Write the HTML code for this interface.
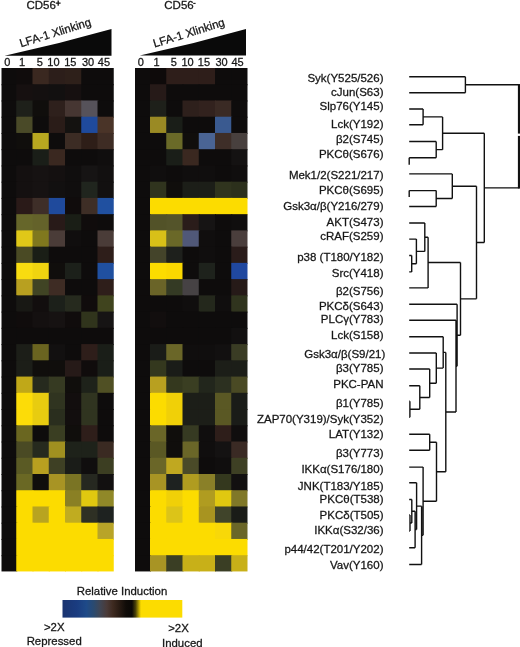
<!DOCTYPE html>
<html><head><meta charset="utf-8"><style>
html,body{margin:0;padding:0;background:#fff;}
body{width:520px;height:647px;overflow:hidden;position:relative;}
svg{position:absolute;left:0;top:0;will-change:transform;}
text{font-family:"Liberation Sans",sans-serif;fill:#161616;stroke:#161616;stroke-width:0.28px;}
.lab text{font-size:11.5px;}
</style></head><body>
<svg width="520" height="647" viewBox="0 0 520 647">
<defs>
<linearGradient id="cb" x1="0" x2="1" y1="0" y2="0">
<stop offset="0" stop-color="#1a3470"/>
<stop offset="0.12" stop-color="#1a3c80"/>
<stop offset="0.2" stop-color="#1e4a88"/>
<stop offset="0.26" stop-color="#2a4a70"/>
<stop offset="0.31" stop-color="#3e4656"/>
<stop offset="0.37" stop-color="#4a3a38"/>
<stop offset="0.42" stop-color="#3e2a20"/>
<stop offset="0.47" stop-color="#2a1c14"/>
<stop offset="0.53" stop-color="#100c08"/>
<stop offset="0.58" stop-color="#0a0806"/>
<stop offset="0.61" stop-color="#4a4208"/>
<stop offset="0.655" stop-color="#fcdc00"/>
<stop offset="1" stop-color="#fcdc00"/>
</linearGradient>
</defs>
<g>
<rect x="1.50" y="68.00" width="15.75" height="17.24" fill="#0e0c0c"/>
<rect x="16.25" y="68.00" width="17.25" height="17.24" fill="#100c0c"/>
<rect x="32.50" y="68.00" width="17.25" height="17.24" fill="#3a2820"/>
<rect x="48.75" y="68.00" width="17.25" height="17.24" fill="#2c1e1a"/>
<rect x="65.00" y="68.00" width="17.25" height="17.24" fill="#2e201a"/>
<rect x="81.25" y="68.00" width="17.25" height="17.24" fill="#0e0c0c"/>
<rect x="97.50" y="68.00" width="16.25" height="17.24" fill="#0e0c0c"/>
<rect x="1.50" y="84.24" width="15.75" height="17.24" fill="#0e0c0c"/>
<rect x="16.25" y="84.24" width="17.25" height="17.24" fill="#161010"/>
<rect x="32.50" y="84.24" width="17.25" height="17.24" fill="#141010"/>
<rect x="48.75" y="84.24" width="17.25" height="17.24" fill="#121010"/>
<rect x="65.00" y="84.24" width="17.25" height="17.24" fill="#161010"/>
<rect x="81.25" y="84.24" width="17.25" height="17.24" fill="#0e0c0c"/>
<rect x="97.50" y="84.24" width="16.25" height="17.24" fill="#0e0c0c"/>
<rect x="1.50" y="100.48" width="15.75" height="17.24" fill="#0e0c0c"/>
<rect x="16.25" y="100.48" width="17.25" height="17.24" fill="#1e201a"/>
<rect x="32.50" y="100.48" width="17.25" height="17.24" fill="#100e0c"/>
<rect x="48.75" y="100.48" width="17.25" height="17.24" fill="#2e201c"/>
<rect x="65.00" y="100.48" width="17.25" height="17.24" fill="#463632"/>
<rect x="81.25" y="100.48" width="17.25" height="17.24" fill="#56525a"/>
<rect x="97.50" y="100.48" width="16.25" height="17.24" fill="#0e0c0c"/>
<rect x="1.50" y="116.72" width="15.75" height="17.24" fill="#0e0c0c"/>
<rect x="16.25" y="116.72" width="17.25" height="17.24" fill="#4a4a28"/>
<rect x="32.50" y="116.72" width="17.25" height="17.24" fill="#0e0c0c"/>
<rect x="48.75" y="116.72" width="17.25" height="17.24" fill="#2a1c18"/>
<rect x="65.00" y="116.72" width="17.25" height="17.24" fill="#141210"/>
<rect x="81.25" y="116.72" width="17.25" height="17.24" fill="#1f4a9c"/>
<rect x="97.50" y="116.72" width="16.25" height="17.24" fill="#4a3428"/>
<rect x="1.50" y="132.96" width="15.75" height="17.24" fill="#0e0c0c"/>
<rect x="16.25" y="132.96" width="17.25" height="17.24" fill="#100e0c"/>
<rect x="32.50" y="132.96" width="17.25" height="17.24" fill="#b8a820"/>
<rect x="48.75" y="132.96" width="17.25" height="17.24" fill="#0e0c0c"/>
<rect x="65.00" y="132.96" width="17.25" height="17.24" fill="#3c2c24"/>
<rect x="81.25" y="132.96" width="17.25" height="17.24" fill="#2e1e18"/>
<rect x="97.50" y="132.96" width="16.25" height="17.24" fill="#3e2c24"/>
<rect x="1.50" y="149.20" width="15.75" height="17.24" fill="#0e0c0c"/>
<rect x="16.25" y="149.20" width="17.25" height="17.24" fill="#0e0c0c"/>
<rect x="32.50" y="149.20" width="17.25" height="17.24" fill="#1a1e18"/>
<rect x="48.75" y="149.20" width="17.25" height="17.24" fill="#3a2820"/>
<rect x="65.00" y="149.20" width="17.25" height="17.24" fill="#0e0c0c"/>
<rect x="81.25" y="149.20" width="17.25" height="17.24" fill="#0e0c0c"/>
<rect x="97.50" y="149.20" width="16.25" height="17.24" fill="#100e0e"/>
<rect x="1.50" y="165.44" width="15.75" height="17.24" fill="#0e0c0c"/>
<rect x="16.25" y="165.44" width="17.25" height="17.24" fill="#141010"/>
<rect x="32.50" y="165.44" width="17.25" height="17.24" fill="#161212"/>
<rect x="48.75" y="165.44" width="17.25" height="17.24" fill="#141010"/>
<rect x="65.00" y="165.44" width="17.25" height="17.24" fill="#100e0e"/>
<rect x="81.25" y="165.44" width="17.25" height="17.24" fill="#161414"/>
<rect x="97.50" y="165.44" width="16.25" height="17.24" fill="#121010"/>
<rect x="1.50" y="181.68" width="15.75" height="17.24" fill="#0e0c0c"/>
<rect x="16.25" y="181.68" width="17.25" height="17.24" fill="#141010"/>
<rect x="32.50" y="181.68" width="17.25" height="17.24" fill="#161212"/>
<rect x="48.75" y="181.68" width="17.25" height="17.24" fill="#121010"/>
<rect x="65.00" y="181.68" width="17.25" height="17.24" fill="#100e0e"/>
<rect x="81.25" y="181.68" width="17.25" height="17.24" fill="#20251e"/>
<rect x="97.50" y="181.68" width="16.25" height="17.24" fill="#121010"/>
<rect x="1.50" y="197.92" width="15.75" height="17.24" fill="#0e0c0c"/>
<rect x="16.25" y="197.92" width="17.25" height="17.24" fill="#2a1a18"/>
<rect x="32.50" y="197.92" width="17.25" height="17.24" fill="#3e2e28"/>
<rect x="48.75" y="197.92" width="17.25" height="17.24" fill="#1f4a9c"/>
<rect x="65.00" y="197.92" width="17.25" height="17.24" fill="#100c0c"/>
<rect x="81.25" y="197.92" width="17.25" height="17.24" fill="#3e2e26"/>
<rect x="97.50" y="197.92" width="16.25" height="17.24" fill="#2050a0"/>
<rect x="1.50" y="214.16" width="15.75" height="17.24" fill="#0e0c0c"/>
<rect x="16.25" y="214.16" width="17.25" height="17.24" fill="#66662a"/>
<rect x="32.50" y="214.16" width="17.25" height="17.24" fill="#64622a"/>
<rect x="48.75" y="214.16" width="17.25" height="17.24" fill="#281a18"/>
<rect x="65.00" y="214.16" width="17.25" height="17.24" fill="#1a1e16"/>
<rect x="81.25" y="214.16" width="17.25" height="17.24" fill="#100c0c"/>
<rect x="97.50" y="214.16" width="16.25" height="17.24" fill="#0e0c0c"/>
<rect x="1.50" y="230.40" width="15.75" height="17.24" fill="#0e0c0c"/>
<rect x="16.25" y="230.40" width="17.25" height="17.24" fill="#e0c818"/>
<rect x="32.50" y="230.40" width="17.25" height="17.24" fill="#80781e"/>
<rect x="48.75" y="230.40" width="17.25" height="17.24" fill="#4a3c38"/>
<rect x="65.00" y="230.40" width="17.25" height="17.24" fill="#100e0e"/>
<rect x="81.25" y="230.40" width="17.25" height="17.24" fill="#0e0c0c"/>
<rect x="97.50" y="230.40" width="16.25" height="17.24" fill="#4a3c38"/>
<rect x="1.50" y="246.64" width="15.75" height="17.24" fill="#0e0c0c"/>
<rect x="16.25" y="246.64" width="17.25" height="17.24" fill="#4a4a24"/>
<rect x="32.50" y="246.64" width="17.25" height="17.24" fill="#1a1e16"/>
<rect x="48.75" y="246.64" width="17.25" height="17.24" fill="#0e0c0c"/>
<rect x="65.00" y="246.64" width="17.25" height="17.24" fill="#0e0c0c"/>
<rect x="81.25" y="246.64" width="17.25" height="17.24" fill="#0e0c0c"/>
<rect x="97.50" y="246.64" width="16.25" height="17.24" fill="#2e1e1a"/>
<rect x="1.50" y="262.88" width="15.75" height="17.24" fill="#0e0c0c"/>
<rect x="16.25" y="262.88" width="17.25" height="17.24" fill="#f8dc10"/>
<rect x="32.50" y="262.88" width="17.25" height="17.24" fill="#f0d410"/>
<rect x="48.75" y="262.88" width="17.25" height="17.24" fill="#100e0c"/>
<rect x="65.00" y="262.88" width="17.25" height="17.24" fill="#1c201a"/>
<rect x="81.25" y="262.88" width="17.25" height="17.24" fill="#0e0c0c"/>
<rect x="97.50" y="262.88" width="16.25" height="17.24" fill="#2050a0"/>
<rect x="1.50" y="279.12" width="15.75" height="17.24" fill="#0e0c0c"/>
<rect x="16.25" y="279.12" width="17.25" height="17.24" fill="#b8a020"/>
<rect x="32.50" y="279.12" width="17.25" height="17.24" fill="#404424"/>
<rect x="48.75" y="279.12" width="17.25" height="17.24" fill="#3e2c24"/>
<rect x="65.00" y="279.12" width="17.25" height="17.24" fill="#0e0c0c"/>
<rect x="81.25" y="279.12" width="17.25" height="17.24" fill="#0e0c0c"/>
<rect x="97.50" y="279.12" width="16.25" height="17.24" fill="#2e1e1a"/>
<rect x="1.50" y="295.36" width="15.75" height="17.24" fill="#0e0c0c"/>
<rect x="16.25" y="295.36" width="17.25" height="17.24" fill="#181814"/>
<rect x="32.50" y="295.36" width="17.25" height="17.24" fill="#120e0e"/>
<rect x="48.75" y="295.36" width="17.25" height="17.24" fill="#1c201a"/>
<rect x="65.00" y="295.36" width="17.25" height="17.24" fill="#262a1e"/>
<rect x="81.25" y="295.36" width="17.25" height="17.24" fill="#100c0c"/>
<rect x="97.50" y="295.36" width="16.25" height="17.24" fill="#40441e"/>
<rect x="1.50" y="311.60" width="15.75" height="17.24" fill="#0e0c0c"/>
<rect x="16.25" y="311.60" width="17.25" height="17.24" fill="#100c0c"/>
<rect x="32.50" y="311.60" width="17.25" height="17.24" fill="#141010"/>
<rect x="48.75" y="311.60" width="17.25" height="17.24" fill="#161212"/>
<rect x="65.00" y="311.60" width="17.25" height="17.24" fill="#100c0c"/>
<rect x="81.25" y="311.60" width="17.25" height="17.24" fill="#30341c"/>
<rect x="97.50" y="311.60" width="16.25" height="17.24" fill="#161414"/>
<rect x="1.50" y="327.84" width="15.75" height="17.24" fill="#0e0c0c"/>
<rect x="16.25" y="327.84" width="17.25" height="17.24" fill="#0e0c0c"/>
<rect x="32.50" y="327.84" width="17.25" height="17.24" fill="#0e0c0c"/>
<rect x="48.75" y="327.84" width="17.25" height="17.24" fill="#0e0c0c"/>
<rect x="65.00" y="327.84" width="17.25" height="17.24" fill="#0e0c0c"/>
<rect x="81.25" y="327.84" width="17.25" height="17.24" fill="#0e0c0c"/>
<rect x="97.50" y="327.84" width="16.25" height="17.24" fill="#0e0c0c"/>
<rect x="1.50" y="344.08" width="15.75" height="17.24" fill="#0e0c0c"/>
<rect x="16.25" y="344.08" width="17.25" height="17.24" fill="#1c1e18"/>
<rect x="32.50" y="344.08" width="17.25" height="17.24" fill="#6a6420"/>
<rect x="48.75" y="344.08" width="17.25" height="17.24" fill="#121010"/>
<rect x="65.00" y="344.08" width="17.25" height="17.24" fill="#0e0c0c"/>
<rect x="81.25" y="344.08" width="17.25" height="17.24" fill="#2e1e1a"/>
<rect x="97.50" y="344.08" width="16.25" height="17.24" fill="#1a1e18"/>
<rect x="1.50" y="360.32" width="15.75" height="17.24" fill="#0e0c0c"/>
<rect x="16.25" y="360.32" width="17.25" height="17.24" fill="#1c1e18"/>
<rect x="32.50" y="360.32" width="17.25" height="17.24" fill="#100e0c"/>
<rect x="48.75" y="360.32" width="17.25" height="17.24" fill="#100e0c"/>
<rect x="65.00" y="360.32" width="17.25" height="17.24" fill="#261a18"/>
<rect x="81.25" y="360.32" width="17.25" height="17.24" fill="#100c0c"/>
<rect x="97.50" y="360.32" width="16.25" height="17.24" fill="#1a1e18"/>
<rect x="1.50" y="376.56" width="15.75" height="17.24" fill="#0e0c0c"/>
<rect x="16.25" y="376.56" width="17.25" height="17.24" fill="#c0a818"/>
<rect x="32.50" y="376.56" width="17.25" height="17.24" fill="#262a1e"/>
<rect x="48.75" y="376.56" width="17.25" height="17.24" fill="#363a22"/>
<rect x="65.00" y="376.56" width="17.25" height="17.24" fill="#100e0c"/>
<rect x="81.25" y="376.56" width="17.25" height="17.24" fill="#1e221a"/>
<rect x="97.50" y="376.56" width="16.25" height="17.24" fill="#505024"/>
<rect x="1.50" y="392.80" width="15.75" height="17.24" fill="#0e0c0c"/>
<rect x="16.25" y="392.80" width="17.25" height="17.24" fill="#fcdc08"/>
<rect x="32.50" y="392.80" width="17.25" height="17.24" fill="#e8cc10"/>
<rect x="48.75" y="392.80" width="17.25" height="17.24" fill="#303420"/>
<rect x="65.00" y="392.80" width="17.25" height="17.24" fill="#120e0e"/>
<rect x="81.25" y="392.80" width="17.25" height="17.24" fill="#303420"/>
<rect x="97.50" y="392.80" width="16.25" height="17.24" fill="#0e0c0c"/>
<rect x="1.50" y="409.04" width="15.75" height="17.24" fill="#0e0c0c"/>
<rect x="16.25" y="409.04" width="17.25" height="17.24" fill="#fcdc08"/>
<rect x="32.50" y="409.04" width="17.25" height="17.24" fill="#e8cc10"/>
<rect x="48.75" y="409.04" width="17.25" height="17.24" fill="#2a2e1e"/>
<rect x="65.00" y="409.04" width="17.25" height="17.24" fill="#120e0e"/>
<rect x="81.25" y="409.04" width="17.25" height="17.24" fill="#303420"/>
<rect x="97.50" y="409.04" width="16.25" height="17.24" fill="#0e0c0c"/>
<rect x="1.50" y="425.28" width="15.75" height="17.24" fill="#0e0c0c"/>
<rect x="16.25" y="425.28" width="17.25" height="17.24" fill="#6a6620"/>
<rect x="32.50" y="425.28" width="17.25" height="17.24" fill="#0e0c0c"/>
<rect x="48.75" y="425.28" width="17.25" height="17.24" fill="#3a3e22"/>
<rect x="65.00" y="425.28" width="17.25" height="17.24" fill="#100e0c"/>
<rect x="81.25" y="425.28" width="17.25" height="17.24" fill="#2e1e1a"/>
<rect x="97.50" y="425.28" width="16.25" height="17.24" fill="#0e0c0c"/>
<rect x="1.50" y="441.52" width="15.75" height="17.24" fill="#0e0c0c"/>
<rect x="16.25" y="441.52" width="17.25" height="17.24" fill="#4a4a24"/>
<rect x="32.50" y="441.52" width="17.25" height="17.24" fill="#262a1e"/>
<rect x="48.75" y="441.52" width="17.25" height="17.24" fill="#a09020"/>
<rect x="65.00" y="441.52" width="17.25" height="17.24" fill="#1e221a"/>
<rect x="81.25" y="441.52" width="17.25" height="17.24" fill="#1e221a"/>
<rect x="97.50" y="441.52" width="16.25" height="17.24" fill="#3a2a22"/>
<rect x="1.50" y="457.76" width="15.75" height="17.24" fill="#0e0c0c"/>
<rect x="16.25" y="457.76" width="17.25" height="17.24" fill="#5a5a24"/>
<rect x="32.50" y="457.76" width="17.25" height="17.24" fill="#b8a020"/>
<rect x="48.75" y="457.76" width="17.25" height="17.24" fill="#3e4024"/>
<rect x="65.00" y="457.76" width="17.25" height="17.24" fill="#1a1c18"/>
<rect x="81.25" y="457.76" width="17.25" height="17.24" fill="#100e0e"/>
<rect x="97.50" y="457.76" width="16.25" height="17.24" fill="#3c3e22"/>
<rect x="1.50" y="474.00" width="15.75" height="17.24" fill="#0e0c0c"/>
<rect x="16.25" y="474.00" width="17.25" height="17.24" fill="#6a6824"/>
<rect x="32.50" y="474.00" width="17.25" height="17.24" fill="#100e0c"/>
<rect x="48.75" y="474.00" width="17.25" height="17.24" fill="#a89424"/>
<rect x="65.00" y="474.00" width="17.25" height="17.24" fill="#7a7424"/>
<rect x="81.25" y="474.00" width="17.25" height="17.24" fill="#262820"/>
<rect x="97.50" y="474.00" width="16.25" height="17.24" fill="#121010"/>
<rect x="1.50" y="490.24" width="15.75" height="17.24" fill="#0e0c0c"/>
<rect x="16.25" y="490.24" width="17.25" height="17.24" fill="#fcdc00"/>
<rect x="32.50" y="490.24" width="17.25" height="17.24" fill="#fcdc00"/>
<rect x="48.75" y="490.24" width="17.25" height="17.24" fill="#fcdc00"/>
<rect x="65.00" y="490.24" width="17.25" height="17.24" fill="#8a8024"/>
<rect x="81.25" y="490.24" width="17.25" height="17.24" fill="#e0c810"/>
<rect x="97.50" y="490.24" width="16.25" height="17.24" fill="#908828"/>
<rect x="1.50" y="506.48" width="15.75" height="17.24" fill="#0e0c0c"/>
<rect x="16.25" y="506.48" width="17.25" height="17.24" fill="#fcdc00"/>
<rect x="32.50" y="506.48" width="17.25" height="17.24" fill="#b8a420"/>
<rect x="48.75" y="506.48" width="17.25" height="17.24" fill="#fcdc00"/>
<rect x="65.00" y="506.48" width="17.25" height="17.24" fill="#c0ac20"/>
<rect x="81.25" y="506.48" width="17.25" height="17.24" fill="#2e3024"/>
<rect x="97.50" y="506.48" width="16.25" height="17.24" fill="#1e2220"/>
<rect x="1.50" y="522.72" width="15.75" height="17.24" fill="#0e0c0c"/>
<rect x="16.25" y="522.72" width="17.25" height="17.24" fill="#fcdc00"/>
<rect x="32.50" y="522.72" width="17.25" height="17.24" fill="#fcdc00"/>
<rect x="48.75" y="522.72" width="17.25" height="17.24" fill="#fcdc00"/>
<rect x="65.00" y="522.72" width="17.25" height="17.24" fill="#fcdc00"/>
<rect x="81.25" y="522.72" width="17.25" height="17.24" fill="#fcdc00"/>
<rect x="97.50" y="522.72" width="16.25" height="17.24" fill="#b8a428"/>
<rect x="1.50" y="538.96" width="15.75" height="17.24" fill="#0e0c0c"/>
<rect x="16.25" y="538.96" width="17.25" height="17.24" fill="#fcdc00"/>
<rect x="32.50" y="538.96" width="17.25" height="17.24" fill="#fcdc00"/>
<rect x="48.75" y="538.96" width="17.25" height="17.24" fill="#fcdc00"/>
<rect x="65.00" y="538.96" width="17.25" height="17.24" fill="#fcdc00"/>
<rect x="81.25" y="538.96" width="17.25" height="17.24" fill="#fcdc00"/>
<rect x="97.50" y="538.96" width="16.25" height="17.24" fill="#fcdc00"/>
<rect x="1.50" y="555.20" width="15.75" height="16.24" fill="#0e0c0c"/>
<rect x="16.25" y="555.20" width="17.25" height="16.24" fill="#fcdc00"/>
<rect x="32.50" y="555.20" width="17.25" height="16.24" fill="#fcdc00"/>
<rect x="48.75" y="555.20" width="17.25" height="16.24" fill="#fcdc00"/>
<rect x="65.00" y="555.20" width="17.25" height="16.24" fill="#fcdc00"/>
<rect x="81.25" y="555.20" width="17.25" height="16.24" fill="#fcdc00"/>
<rect x="97.50" y="555.20" width="16.25" height="16.24" fill="#fcdc00"/>
</g>
<g>
<rect x="135.00" y="68.00" width="16.00" height="17.24" fill="#0e0c0c"/>
<rect x="150.00" y="68.00" width="17.25" height="17.24" fill="#0e0a0a"/>
<rect x="166.25" y="68.00" width="17.25" height="17.24" fill="#2e1e1a"/>
<rect x="182.50" y="68.00" width="17.25" height="17.24" fill="#2e1e1a"/>
<rect x="198.75" y="68.00" width="17.25" height="17.24" fill="#2e1e1a"/>
<rect x="215.00" y="68.00" width="17.25" height="17.24" fill="#0e0c0c"/>
<rect x="231.25" y="68.00" width="16.25" height="17.24" fill="#0e0c0c"/>
<rect x="135.00" y="84.24" width="16.00" height="17.24" fill="#0e0c0c"/>
<rect x="150.00" y="84.24" width="17.25" height="17.24" fill="#261a18"/>
<rect x="166.25" y="84.24" width="17.25" height="17.24" fill="#0e0c0c"/>
<rect x="182.50" y="84.24" width="17.25" height="17.24" fill="#0e0c0c"/>
<rect x="198.75" y="84.24" width="17.25" height="17.24" fill="#0e0c0c"/>
<rect x="215.00" y="84.24" width="17.25" height="17.24" fill="#0e0c0c"/>
<rect x="231.25" y="84.24" width="16.25" height="17.24" fill="#0e0c0c"/>
<rect x="135.00" y="100.48" width="16.00" height="17.24" fill="#0e0c0c"/>
<rect x="150.00" y="100.48" width="17.25" height="17.24" fill="#1e201a"/>
<rect x="166.25" y="100.48" width="17.25" height="17.24" fill="#0e0c0c"/>
<rect x="182.50" y="100.48" width="17.25" height="17.24" fill="#2e201c"/>
<rect x="198.75" y="100.48" width="17.25" height="17.24" fill="#32221e"/>
<rect x="215.00" y="100.48" width="17.25" height="17.24" fill="#3a2a24"/>
<rect x="231.25" y="100.48" width="16.25" height="17.24" fill="#0e0c0c"/>
<rect x="135.00" y="116.72" width="16.00" height="17.24" fill="#0e0c0c"/>
<rect x="150.00" y="116.72" width="17.25" height="17.24" fill="#9a8a24"/>
<rect x="166.25" y="116.72" width="17.25" height="17.24" fill="#1a1e18"/>
<rect x="182.50" y="116.72" width="17.25" height="17.24" fill="#0e0c0c"/>
<rect x="198.75" y="116.72" width="17.25" height="17.24" fill="#0e0c0c"/>
<rect x="215.00" y="116.72" width="17.25" height="17.24" fill="#3a5a90"/>
<rect x="231.25" y="116.72" width="16.25" height="17.24" fill="#0e0c0c"/>
<rect x="135.00" y="132.96" width="16.00" height="17.24" fill="#0e0c0c"/>
<rect x="150.00" y="132.96" width="17.25" height="17.24" fill="#0e0c0c"/>
<rect x="166.25" y="132.96" width="17.25" height="17.24" fill="#6a6a28"/>
<rect x="182.50" y="132.96" width="17.25" height="17.24" fill="#100e0c"/>
<rect x="198.75" y="132.96" width="17.25" height="17.24" fill="#4a6494"/>
<rect x="215.00" y="132.96" width="17.25" height="17.24" fill="#3e2e28"/>
<rect x="231.25" y="132.96" width="16.25" height="17.24" fill="#48403e"/>
<rect x="135.00" y="149.20" width="16.00" height="17.24" fill="#0e0c0c"/>
<rect x="150.00" y="149.20" width="17.25" height="17.24" fill="#0e0c0c"/>
<rect x="166.25" y="149.20" width="17.25" height="17.24" fill="#1a1e18"/>
<rect x="182.50" y="149.20" width="17.25" height="17.24" fill="#3a2820"/>
<rect x="198.75" y="149.20" width="17.25" height="17.24" fill="#0e0c0c"/>
<rect x="215.00" y="149.20" width="17.25" height="17.24" fill="#0e0c0c"/>
<rect x="231.25" y="149.20" width="16.25" height="17.24" fill="#141212"/>
<rect x="135.00" y="165.44" width="16.00" height="17.24" fill="#0e0c0c"/>
<rect x="150.00" y="165.44" width="17.25" height="17.24" fill="#100e0e"/>
<rect x="166.25" y="165.44" width="17.25" height="17.24" fill="#0e0c0c"/>
<rect x="182.50" y="165.44" width="17.25" height="17.24" fill="#100e0e"/>
<rect x="198.75" y="165.44" width="17.25" height="17.24" fill="#100e0e"/>
<rect x="215.00" y="165.44" width="17.25" height="17.24" fill="#0e0c0c"/>
<rect x="231.25" y="165.44" width="16.25" height="17.24" fill="#100e0e"/>
<rect x="135.00" y="181.68" width="16.00" height="17.24" fill="#0e0c0c"/>
<rect x="150.00" y="181.68" width="17.25" height="17.24" fill="#30341e"/>
<rect x="166.25" y="181.68" width="17.25" height="17.24" fill="#100e0c"/>
<rect x="182.50" y="181.68" width="17.25" height="17.24" fill="#1c1e18"/>
<rect x="198.75" y="181.68" width="17.25" height="17.24" fill="#1c1e18"/>
<rect x="215.00" y="181.68" width="17.25" height="17.24" fill="#30341e"/>
<rect x="231.25" y="181.68" width="16.25" height="17.24" fill="#2c301c"/>
<rect x="135.00" y="197.92" width="16.00" height="17.24" fill="#0e0c0c"/>
<rect x="150.00" y="197.92" width="17.25" height="17.24" fill="#fcdc00"/>
<rect x="166.25" y="197.92" width="17.25" height="17.24" fill="#fcdc00"/>
<rect x="182.50" y="197.92" width="17.25" height="17.24" fill="#fcdc00"/>
<rect x="198.75" y="197.92" width="17.25" height="17.24" fill="#fcdc00"/>
<rect x="215.00" y="197.92" width="17.25" height="17.24" fill="#fcdc00"/>
<rect x="231.25" y="197.92" width="16.25" height="17.24" fill="#fcdc00"/>
<rect x="135.00" y="214.16" width="16.00" height="17.24" fill="#0e0c0c"/>
<rect x="150.00" y="214.16" width="17.25" height="17.24" fill="#525228"/>
<rect x="166.25" y="214.16" width="17.25" height="17.24" fill="#54542a"/>
<rect x="182.50" y="214.16" width="17.25" height="17.24" fill="#2a1c1a"/>
<rect x="198.75" y="214.16" width="17.25" height="17.24" fill="#161414"/>
<rect x="215.00" y="214.16" width="17.25" height="17.24" fill="#0e0c0c"/>
<rect x="231.25" y="214.16" width="16.25" height="17.24" fill="#100e0e"/>
<rect x="135.00" y="230.40" width="16.00" height="17.24" fill="#0e0c0c"/>
<rect x="150.00" y="230.40" width="17.25" height="17.24" fill="#d8c018"/>
<rect x="166.25" y="230.40" width="17.25" height="17.24" fill="#6a6828"/>
<rect x="182.50" y="230.40" width="17.25" height="17.24" fill="#505878"/>
<rect x="198.75" y="230.40" width="17.25" height="17.24" fill="#100e0e"/>
<rect x="215.00" y="230.40" width="17.25" height="17.24" fill="#0e0c0c"/>
<rect x="231.25" y="230.40" width="16.25" height="17.24" fill="#4a3e3c"/>
<rect x="135.00" y="246.64" width="16.00" height="17.24" fill="#0e0c0c"/>
<rect x="150.00" y="246.64" width="17.25" height="17.24" fill="#44442a"/>
<rect x="166.25" y="246.64" width="17.25" height="17.24" fill="#1e201c"/>
<rect x="182.50" y="246.64" width="17.25" height="17.24" fill="#0e0c0c"/>
<rect x="198.75" y="246.64" width="17.25" height="17.24" fill="#100e0e"/>
<rect x="215.00" y="246.64" width="17.25" height="17.24" fill="#0e0c0c"/>
<rect x="231.25" y="246.64" width="16.25" height="17.24" fill="#2a1c1a"/>
<rect x="135.00" y="262.88" width="16.00" height="17.24" fill="#0e0c0c"/>
<rect x="150.00" y="262.88" width="17.25" height="17.24" fill="#fcdc00"/>
<rect x="166.25" y="262.88" width="17.25" height="17.24" fill="#fad800"/>
<rect x="182.50" y="262.88" width="17.25" height="17.24" fill="#0e0c0c"/>
<rect x="198.75" y="262.88" width="17.25" height="17.24" fill="#1e221c"/>
<rect x="215.00" y="262.88" width="17.25" height="17.24" fill="#0e0c0c"/>
<rect x="231.25" y="262.88" width="16.25" height="17.24" fill="#2048a0"/>
<rect x="135.00" y="279.12" width="16.00" height="17.24" fill="#0e0c0c"/>
<rect x="150.00" y="279.12" width="17.25" height="17.24" fill="#6a6428"/>
<rect x="166.25" y="279.12" width="17.25" height="17.24" fill="#343a24"/>
<rect x="182.50" y="279.12" width="17.25" height="17.24" fill="#464244"/>
<rect x="198.75" y="279.12" width="17.25" height="17.24" fill="#0e0c0c"/>
<rect x="215.00" y="279.12" width="17.25" height="17.24" fill="#0e0c0c"/>
<rect x="231.25" y="279.12" width="16.25" height="17.24" fill="#261a18"/>
<rect x="135.00" y="295.36" width="16.00" height="17.24" fill="#0e0c0c"/>
<rect x="150.00" y="295.36" width="17.25" height="17.24" fill="#0e0c0c"/>
<rect x="166.25" y="295.36" width="17.25" height="17.24" fill="#0e0c0c"/>
<rect x="182.50" y="295.36" width="17.25" height="17.24" fill="#100e0e"/>
<rect x="198.75" y="295.36" width="17.25" height="17.24" fill="#24281c"/>
<rect x="215.00" y="295.36" width="17.25" height="17.24" fill="#100e0e"/>
<rect x="231.25" y="295.36" width="16.25" height="17.24" fill="#30341e"/>
<rect x="135.00" y="311.60" width="16.00" height="17.24" fill="#0e0c0c"/>
<rect x="150.00" y="311.60" width="17.25" height="17.24" fill="#120e0e"/>
<rect x="166.25" y="311.60" width="17.25" height="17.24" fill="#0e0c0c"/>
<rect x="182.50" y="311.60" width="17.25" height="17.24" fill="#0e0c0c"/>
<rect x="198.75" y="311.60" width="17.25" height="17.24" fill="#0e0c0c"/>
<rect x="215.00" y="311.60" width="17.25" height="17.24" fill="#0e0c0c"/>
<rect x="231.25" y="311.60" width="16.25" height="17.24" fill="#0e0c0c"/>
<rect x="135.00" y="327.84" width="16.00" height="17.24" fill="#0e0c0c"/>
<rect x="150.00" y="327.84" width="17.25" height="17.24" fill="#0e0c0c"/>
<rect x="166.25" y="327.84" width="17.25" height="17.24" fill="#0e0c0c"/>
<rect x="182.50" y="327.84" width="17.25" height="17.24" fill="#0e0c0c"/>
<rect x="198.75" y="327.84" width="17.25" height="17.24" fill="#0e0c0c"/>
<rect x="215.00" y="327.84" width="17.25" height="17.24" fill="#0e0c0c"/>
<rect x="231.25" y="327.84" width="16.25" height="17.24" fill="#121010"/>
<rect x="135.00" y="344.08" width="16.00" height="17.24" fill="#0e0c0c"/>
<rect x="150.00" y="344.08" width="17.25" height="17.24" fill="#1a1c18"/>
<rect x="166.25" y="344.08" width="17.25" height="17.24" fill="#6a6628"/>
<rect x="182.50" y="344.08" width="17.25" height="17.24" fill="#100e0e"/>
<rect x="198.75" y="344.08" width="17.25" height="17.24" fill="#100e0e"/>
<rect x="215.00" y="344.08" width="17.25" height="17.24" fill="#121010"/>
<rect x="231.25" y="344.08" width="16.25" height="17.24" fill="#3a3c24"/>
<rect x="135.00" y="360.32" width="16.00" height="17.24" fill="#0e0c0c"/>
<rect x="150.00" y="360.32" width="17.25" height="17.24" fill="#34381e"/>
<rect x="166.25" y="360.32" width="17.25" height="17.24" fill="#1a1c18"/>
<rect x="182.50" y="360.32" width="17.25" height="17.24" fill="#0e0c0c"/>
<rect x="198.75" y="360.32" width="17.25" height="17.24" fill="#0e0c0c"/>
<rect x="215.00" y="360.32" width="17.25" height="17.24" fill="#1c1e18"/>
<rect x="231.25" y="360.32" width="16.25" height="17.24" fill="#1c1e18"/>
<rect x="135.00" y="376.56" width="16.00" height="17.24" fill="#0e0c0c"/>
<rect x="150.00" y="376.56" width="17.25" height="17.24" fill="#b8a020"/>
<rect x="166.25" y="376.56" width="17.25" height="17.24" fill="#34381e"/>
<rect x="182.50" y="376.56" width="17.25" height="17.24" fill="#3a3e22"/>
<rect x="198.75" y="376.56" width="17.25" height="17.24" fill="#22261c"/>
<rect x="215.00" y="376.56" width="17.25" height="17.24" fill="#2c3020"/>
<rect x="231.25" y="376.56" width="16.25" height="17.24" fill="#4a4a24"/>
<rect x="135.00" y="392.80" width="16.00" height="17.24" fill="#0e0c0c"/>
<rect x="150.00" y="392.80" width="17.25" height="17.24" fill="#fcdc00"/>
<rect x="166.25" y="392.80" width="17.25" height="17.24" fill="#f0d008"/>
<rect x="182.50" y="392.80" width="17.25" height="17.24" fill="#1c1e18"/>
<rect x="198.75" y="392.80" width="17.25" height="17.24" fill="#1c1e18"/>
<rect x="215.00" y="392.80" width="17.25" height="17.24" fill="#5a5824"/>
<rect x="231.25" y="392.80" width="16.25" height="17.24" fill="#1a1c18"/>
<rect x="135.00" y="409.04" width="16.00" height="17.24" fill="#0e0c0c"/>
<rect x="150.00" y="409.04" width="17.25" height="17.24" fill="#fcdc00"/>
<rect x="166.25" y="409.04" width="17.25" height="17.24" fill="#f0d008"/>
<rect x="182.50" y="409.04" width="17.25" height="17.24" fill="#1c1e18"/>
<rect x="198.75" y="409.04" width="17.25" height="17.24" fill="#1c1e18"/>
<rect x="215.00" y="409.04" width="17.25" height="17.24" fill="#5a5824"/>
<rect x="231.25" y="409.04" width="16.25" height="17.24" fill="#1a1c18"/>
<rect x="135.00" y="425.28" width="16.00" height="17.24" fill="#0e0c0c"/>
<rect x="150.00" y="425.28" width="17.25" height="17.24" fill="#6a6628"/>
<rect x="166.25" y="425.28" width="17.25" height="17.24" fill="#100e0c"/>
<rect x="182.50" y="425.28" width="17.25" height="17.24" fill="#363a22"/>
<rect x="198.75" y="425.28" width="17.25" height="17.24" fill="#100e0e"/>
<rect x="215.00" y="425.28" width="17.25" height="17.24" fill="#2e1e1a"/>
<rect x="231.25" y="425.28" width="16.25" height="17.24" fill="#100e0e"/>
<rect x="135.00" y="441.52" width="16.00" height="17.24" fill="#0e0c0c"/>
<rect x="150.00" y="441.52" width="17.25" height="17.24" fill="#5a5824"/>
<rect x="166.25" y="441.52" width="17.25" height="17.24" fill="#100e0c"/>
<rect x="182.50" y="441.52" width="17.25" height="17.24" fill="#6a6628"/>
<rect x="198.75" y="441.52" width="17.25" height="17.24" fill="#100e0e"/>
<rect x="215.00" y="441.52" width="17.25" height="17.24" fill="#141212"/>
<rect x="231.25" y="441.52" width="16.25" height="17.24" fill="#3a2a24"/>
<rect x="135.00" y="457.76" width="16.00" height="17.24" fill="#0e0c0c"/>
<rect x="150.00" y="457.76" width="17.25" height="17.24" fill="#6a6628"/>
<rect x="166.25" y="457.76" width="17.25" height="17.24" fill="#c0a820"/>
<rect x="182.50" y="457.76" width="17.25" height="17.24" fill="#4a4a28"/>
<rect x="198.75" y="457.76" width="17.25" height="17.24" fill="#0e0c0c"/>
<rect x="215.00" y="457.76" width="17.25" height="17.24" fill="#100e0e"/>
<rect x="231.25" y="457.76" width="16.25" height="17.24" fill="#3e4024"/>
<rect x="135.00" y="474.00" width="16.00" height="17.24" fill="#0e0c0c"/>
<rect x="150.00" y="474.00" width="17.25" height="17.24" fill="#a89424"/>
<rect x="166.25" y="474.00" width="17.25" height="17.24" fill="#1e2220"/>
<rect x="182.50" y="474.00" width="17.25" height="17.24" fill="#b09c20"/>
<rect x="198.75" y="474.00" width="17.25" height="17.24" fill="#8a8028"/>
<rect x="215.00" y="474.00" width="17.25" height="17.24" fill="#34381e"/>
<rect x="231.25" y="474.00" width="16.25" height="17.24" fill="#121010"/>
<rect x="135.00" y="490.24" width="16.00" height="17.24" fill="#0e0c0c"/>
<rect x="150.00" y="490.24" width="17.25" height="17.24" fill="#fcdc00"/>
<rect x="166.25" y="490.24" width="17.25" height="17.24" fill="#f0d008"/>
<rect x="182.50" y="490.24" width="17.25" height="17.24" fill="#fcdc00"/>
<rect x="198.75" y="490.24" width="17.25" height="17.24" fill="#b09c20"/>
<rect x="215.00" y="490.24" width="17.25" height="17.24" fill="#e0c810"/>
<rect x="231.25" y="490.24" width="16.25" height="17.24" fill="#807828"/>
<rect x="135.00" y="506.48" width="16.00" height="17.24" fill="#0e0c0c"/>
<rect x="150.00" y="506.48" width="17.25" height="17.24" fill="#fcdc00"/>
<rect x="166.25" y="506.48" width="17.25" height="17.24" fill="#dcc418"/>
<rect x="182.50" y="506.48" width="17.25" height="17.24" fill="#fcdc00"/>
<rect x="198.75" y="506.48" width="17.25" height="17.24" fill="#a89420"/>
<rect x="215.00" y="506.48" width="17.25" height="17.24" fill="#40442a"/>
<rect x="231.25" y="506.48" width="16.25" height="17.24" fill="#1a1c18"/>
<rect x="135.00" y="522.72" width="16.00" height="17.24" fill="#0e0c0c"/>
<rect x="150.00" y="522.72" width="17.25" height="17.24" fill="#fcdc00"/>
<rect x="166.25" y="522.72" width="17.25" height="17.24" fill="#fcdc00"/>
<rect x="182.50" y="522.72" width="17.25" height="17.24" fill="#fcdc00"/>
<rect x="198.75" y="522.72" width="17.25" height="17.24" fill="#fcdc00"/>
<rect x="215.00" y="522.72" width="17.25" height="17.24" fill="#f8d808"/>
<rect x="231.25" y="522.72" width="16.25" height="17.24" fill="#6a6628"/>
<rect x="135.00" y="538.96" width="16.00" height="17.24" fill="#0e0c0c"/>
<rect x="150.00" y="538.96" width="17.25" height="17.24" fill="#fcdc00"/>
<rect x="166.25" y="538.96" width="17.25" height="17.24" fill="#fcdc00"/>
<rect x="182.50" y="538.96" width="17.25" height="17.24" fill="#fcdc00"/>
<rect x="198.75" y="538.96" width="17.25" height="17.24" fill="#fcdc00"/>
<rect x="215.00" y="538.96" width="17.25" height="17.24" fill="#fcdc00"/>
<rect x="231.25" y="538.96" width="16.25" height="17.24" fill="#fcdc00"/>
<rect x="135.00" y="555.20" width="16.00" height="16.24" fill="#0e0c0c"/>
<rect x="150.00" y="555.20" width="17.25" height="16.24" fill="#a89424"/>
<rect x="166.25" y="555.20" width="17.25" height="16.24" fill="#3a3e24"/>
<rect x="182.50" y="555.20" width="17.25" height="16.24" fill="#c8b018"/>
<rect x="198.75" y="555.20" width="17.25" height="16.24" fill="#c8b018"/>
<rect x="215.00" y="555.20" width="17.25" height="16.24" fill="#3a3e24"/>
<rect x="231.25" y="555.20" width="16.25" height="16.24" fill="#c8b018"/>
</g>
<!-- triangles -->
<path d="M4.6 55.7 Q58 44.2 111.5 29 L111.5 55.7 Z" fill="#0a0a0a"/>
<path d="M139.8 55.6 Q193 44.1 246 29 L246 55.6 Z" fill="#0a0a0a"/>
<text x="26.4" y="9.3" font-size="11.5">CD56</text><path d="M55.8 3.1H60.6M58.2 0.4V5.8" stroke="#161616" stroke-width="1.3"/>
<text x="164.3" y="9.3" font-size="11.5">CD56</text><path d="M193.2 3.4H195.6" stroke="#161616" stroke-width="1.1"/>
<text transform="translate(21.0 47.3) rotate(-17.3)" font-size="11.5">LFA-1 Xlinking</text>
<text transform="translate(154.6 47.6) rotate(-17.3)" font-size="11.5">LFA-1 Xlinking</text>
<g font-size="11" text-anchor="middle">
<text x="7.2" y="65.6">0</text><text x="22" y="65.6">1</text><text x="39.8" y="65.6">5</text><text x="53.4" y="65.6">10</text><text x="70.3" y="65.6">15</text><text x="88.1" y="65.6">30</text><text x="103.9" y="65.6">45</text>
<text x="140.9" y="65.6">0</text><text x="156.5" y="65.6">1</text><text x="173.9" y="65.6">5</text><text x="187.6" y="65.6">10</text><text x="203.9" y="65.6">15</text><text x="221.6" y="65.6">30</text><text x="237.6" y="65.6">45</text>
</g>
<g class="lab">
<text x="383.5" y="82" text-anchor="end">Syk(Y525/526)</text>
<text x="383.5" y="95.5" text-anchor="end">cJun(S63)</text>
<text x="383.5" y="110" text-anchor="end">Slp76(Y145)</text>
<text x="383.5" y="128" text-anchor="end">Lck(Y192)</text>
<text x="383.5" y="143.25" text-anchor="end"><tspan class="g">β</tspan>2(S745)</text>
<text x="383.5" y="158" text-anchor="end">PKC<tspan class="g">θ</tspan>(S676)</text>
<text x="383.5" y="178.75" text-anchor="end">Mek1/2(S221/217)</text>
<text x="383.5" y="194.25" text-anchor="end">PKC<tspan class="g">θ</tspan>(S695)</text>
<text x="383.5" y="209.5" text-anchor="end">Gsk3<tspan class="g">α</tspan>/<tspan class="g">β</tspan>(Y216/279)</text>
<text x="383.5" y="225.5" text-anchor="end">AKT(S473)</text>
<text x="383.5" y="239.5" text-anchor="end">cRAF(S259)</text>
<text x="383.5" y="260.5" text-anchor="end">p38 (T180/Y182)</text>
<text x="383.5" y="276.5" text-anchor="end">Src(Y418)</text>
<text x="383.5" y="294.5" text-anchor="end"><tspan class="g">β</tspan>2(S756)</text>
<text x="383.5" y="309.5" text-anchor="end">PKC<tspan class="g">δ</tspan>(S643)</text>
<text x="383.5" y="323" text-anchor="end">PLC<tspan class="g">γ</tspan>(Y783)</text>
<text x="383.5" y="339" text-anchor="end">Lck(S158)</text>
<text x="385.3" y="357.5" text-anchor="end">Gsk3<tspan class="g">α</tspan>/<tspan class="g">β</tspan>(S9/21)</text>
<text x="383.5" y="372" text-anchor="end"><tspan class="g">β</tspan>3(Y785)</text>
<text x="383.5" y="387.5" text-anchor="end">PKC-PAN</text>
<text x="383.5" y="406.5" text-anchor="end"><tspan class="g">β</tspan>1(Y785)</text>
<text x="383.5" y="423.0" text-anchor="end">ZAP70(Y319)/Syk(Y352)</text>
<text x="383.5" y="437.9" text-anchor="end">LAT(Y132)</text>
<text x="383.5" y="456.8" text-anchor="end"><tspan class="g">β</tspan>3(Y773)</text>
<text x="383.5" y="472.8" text-anchor="end">IKK<tspan class="g">α</tspan>(S176/180)</text>
<text x="383.5" y="490" text-anchor="end">JNK(T183/Y185)</text>
<text x="383.5" y="502.8" text-anchor="end">PKC<tspan class="g">θ</tspan>(T538)</text>
<text x="383.5" y="518.5" text-anchor="end">PKC<tspan class="g">δ</tspan>(T505)</text>
<text x="383.5" y="533.8" text-anchor="end">IKK<tspan class="g">α</tspan>(S32/36)</text>
<text x="383.5" y="553.3" text-anchor="end">p44/42(T201/Y202)</text>
<text x="383.5" y="568.7" text-anchor="end">Vav(Y160)</text>
</g>
<path d="M465.40 76.70V92.80M409.20 76.70H465.40M409.20 92.80H465.40M423.10 109.00V124.80M409.20 109.00H423.10M409.20 124.80H423.10M436.20 141.50V157.80M409.20 141.50H436.20M409.20 157.80H436.20M442.60 116.90V149.65M423.10 116.90H442.60M436.20 149.65H442.60M436.20 190.60V206.50M409.20 190.60H436.20M409.20 206.50H436.20M452.30 173.90V198.55M409.20 173.90H452.30M436.20 198.55H452.30M411.70 255.50V271.90M409.20 255.50H411.70M409.20 271.90H411.70M416.40 239.10V263.70M409.20 239.10H416.40M411.70 263.70H416.40M424.80 223.00V251.40M409.20 223.00H424.80M416.40 251.40H424.80M428.10 237.20V287.90M424.80 237.20H428.10M409.20 287.90H428.10M409.90 401.20V417.20M409.20 401.20H409.90M409.20 417.20H409.90M419.80 385.80V409.20M409.20 385.80H419.80M409.90 409.20H419.80M429.70 369.00V397.50M409.20 369.00H429.70M419.80 397.50H429.70M436.30 353.00V383.25M409.20 353.00H436.30M429.70 383.25H436.30M443.20 336.70V368.12M409.20 336.70H443.20M436.30 368.12H443.20M429.70 434.30V450.20M409.20 434.30H429.70M409.20 450.20H429.70M410.00 515.00V531.00M409.20 515.00H410.00M409.20 531.00H410.00M411.80 499.50V523.00M409.20 499.50H411.80M410.00 523.00H411.80M415.10 511.25V547.80M411.80 511.25H415.10M409.20 547.80H415.10M416.60 482.80V529.52M409.20 482.80H416.60M415.10 529.52H416.60M421.60 506.16V564.50M416.60 506.16H421.60M409.20 564.50H421.60M423.10 467.10V535.33M409.20 467.10H423.10M421.60 535.33H423.10M436.50 442.25V501.22M429.70 442.25H436.50M423.10 501.22H436.50M445.80 352.41V471.73M443.20 352.41H445.80M436.50 471.73H445.80M456.00 320.30V412.07M409.20 320.30H456.00M445.80 412.07H456.00M457.10 304.20V366.19M409.20 304.20H457.10M456.00 366.19H457.10M460.50 262.55V335.19M428.10 262.55H460.50M457.10 335.19H460.50M476.50 186.23V298.87M452.30 186.23H476.50M460.50 298.87H476.50M484.30 133.28V242.55M442.60 133.28H484.30M476.50 242.55H484.30M465.40 84.75H518.60M484.30 187.91H518.60M409.2 157.8V164.8M409.2 190.6V197" stroke="#111" stroke-width="1.4" fill="none"/>
<rect x="517.9" y="84.05" width="2.1" height="49.55" fill="#111"/>
<rect x="517.9" y="135.9" width="2.1" height="52.71" fill="#111"/>
<rect x="62.5" y="600" width="119.8" height="17.6" fill="url(#cb)"/>
<text x="122" y="595" font-size="11.4" text-anchor="middle">Relative Induction</text>
<text x="54.2" y="631" font-size="11.4" text-anchor="middle">&gt;2X</text>
<text x="54.2" y="644.5" font-size="11.4" text-anchor="middle">Repressed</text>
<text x="178.5" y="631.5" font-size="11.4" text-anchor="middle">&gt;2X</text>
<text x="182.3" y="647" font-size="11.4" text-anchor="middle">Induced</text>
</svg>
</body></html>
